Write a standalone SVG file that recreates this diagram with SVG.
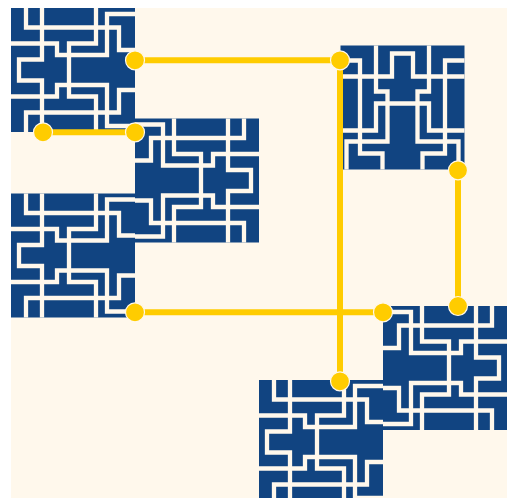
<svg xmlns="http://www.w3.org/2000/svg" width="511" height="498" viewBox="0 0 511 498">
<style>
.bg{fill:#fff8ec}
.blue{fill:#114481}
.cut{fill:none;stroke:#fff8ec;stroke-width:4.3;stroke-linejoin:miter;stroke-linecap:butt}
.wire{fill:none;stroke:#ffcc00;stroke-width:6}
.dot{fill:#ffcc00;stroke:#fff8ec;stroke-width:1.2}
</style>
<defs>
<g id="tile">
<rect class="blue" width="124" height="124"/>
<path class="cut" d="M31 0V51.5H8V72.5H31V124M0 35.5H46V47H58M85 0V35.5H58V88.5H85V124M58 47H96V6H124M58 77H96V118H124M15 0V19.5H108V42H124M15 124V104.5H108V82H124M0 88.5H46V77H58"/>
</g>
</defs>
<rect width="511" height="498" fill="#ffffff"/>
<rect class="bg" x="11" y="8" width="496" height="490"/>
<g id="tile-a"><use href="#tile" transform="translate(11 8)"/></g>
<g id="tile-b"><use href="#tile" transform="translate(259 118.5) scale(-1 1)"/></g>
<g id="tile-c"><use href="#tile" transform="translate(11 193.5)"/></g>
<g id="tile-d"><use href="#tile" transform="translate(464.5 45.5) rotate(90)"/></g>
<g id="tile-e"><use href="#tile" transform="translate(507 306) scale(-1 1)"/></g>
<g id="tile-f"><use href="#tile" transform="translate(259 380)"/></g>
<g id="connectors">
<path class="wire" d="M135 60.3H340"/>
<path class="wire" d="M340 60.3V381.3"/>
<path class="wire" d="M43 132.3H135"/>
<path class="wire" d="M458 170.3V306"/>
<path class="wire" d="M135 312.3H383"/>
</g>
<g id="dots">
<circle id="n1" class="dot" cx="135" cy="60.3" r="9.5"/>
<circle id="n2" class="dot" cx="340" cy="60.3" r="9.5"/>
<circle id="n3" class="dot" cx="43" cy="132.3" r="9.5"/>
<circle id="n4" class="dot" cx="135" cy="132.3" r="9.5"/>
<circle id="n5" class="dot" cx="458" cy="170.3" r="9.5"/>
<circle id="n6" class="dot" cx="458" cy="306" r="9.5"/>
<circle id="n7" class="dot" cx="135" cy="312.3" r="9.5"/>
<circle id="n8" class="dot" cx="383" cy="312.3" r="9.5"/>
<circle id="n9" class="dot" cx="340" cy="381.3" r="9.5"/>
</g>
</svg>
